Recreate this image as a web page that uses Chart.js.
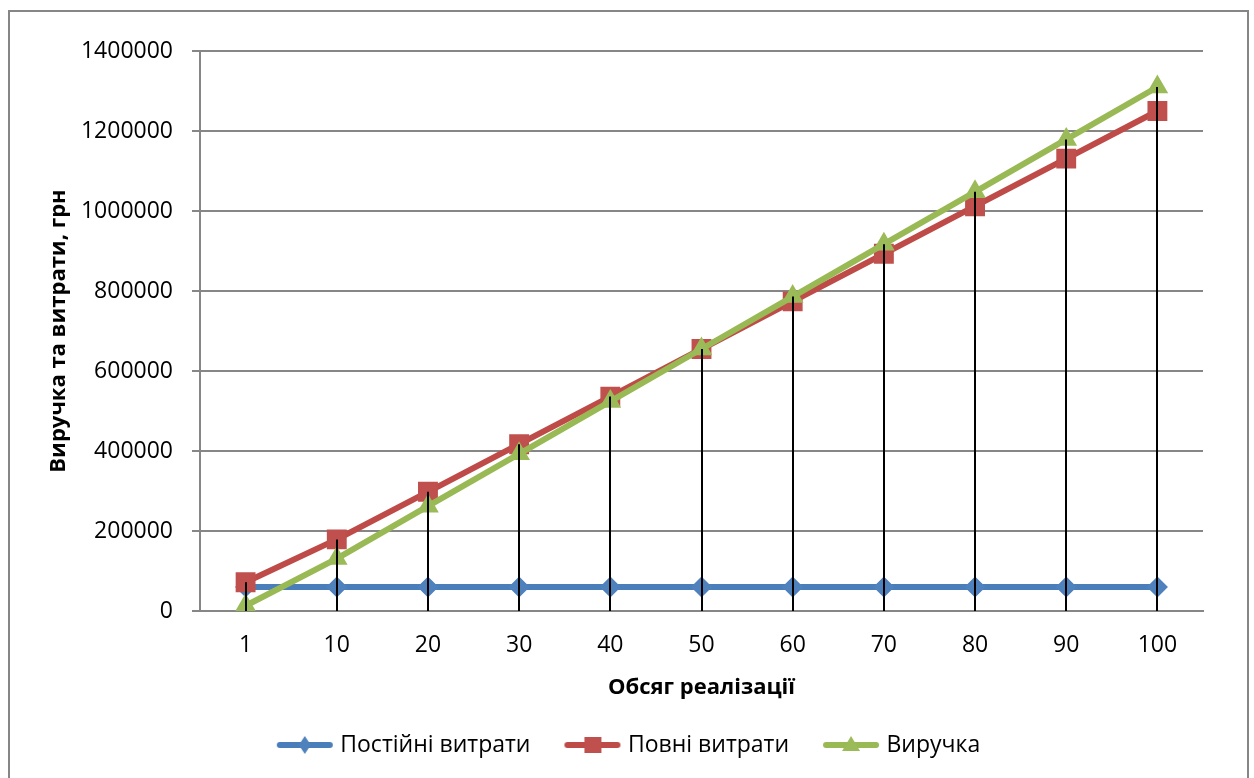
<!DOCTYPE html>
<html>
<head>
<meta charset="utf-8">
<script src="https://cdn.jsdelivr.net/npm/chart.js@4/dist/chart.umd.min.js"></script>
<style>
html,body{margin:0;padding:0;background:#fff;}
canvas{display:block;}
</style>
</head>
<body>
<canvas id="c" width="1254" height="778"></canvas>
<script>
// ---- data ----
const categories = ['1', '10', '20', '30', '40', '50', '60', '70', '80', '90', '100'];
const fixedCosts = [60000, 60000, 60000, 60000, 60000, 60000, 60000, 60000, 60000, 60000, 60000];
const totalCosts = [72000, 179000, 298000, 417000, 536000, 655000, 774000, 893000, 1012000, 1131000, 1250000];
const revenue = [13100, 131000, 262000, 393000, 524000, 655000, 786000, 917000, 1048000, 1179000, 1310000];
const seriesNames = ['Постійні витрати', 'Повні витрати', 'Виручка'];
const yTickValues = [0, 200000, 400000, 600000, 800000, 1000000, 1200000, 1400000];
const yTickLabels = ['0', '200000', '400000', '600000', '800000', '1000000', '1200000', '1400000'];
const xTitle = 'Обсяг реалізації';
const yTitle = 'Виручка та витрати, грн';

const FONT = "'Open Sans', 'DejaVu Sans', sans-serif";
const BLUE = '#4A7EBB', BLUE_M = '#4F81BD';
const RED = '#BE4B48', RED_M = '#C0504D';
const GREEN = '#98B954', GREEN_M = '#9BBB59';
const GRID = '#868686';

function legendIcon(lineColor, markColor, shape) {
  const cv = document.createElement('canvas');
  cv.width = 58; cv.height = 22;
  const g = cv.getContext('2d');
  g.strokeStyle = lineColor; g.lineWidth = 6; g.lineCap = 'round';
  g.beginPath(); g.moveTo(4, 11); g.lineTo(54, 11); g.stroke();
  g.fillStyle = markColor;
  g.beginPath();
  if (shape === 'diamond') {
    g.moveTo(29, 2); g.lineTo(35, 11); g.lineTo(29, 20); g.lineTo(23, 11);
  } else if (shape === 'square') {
    g.rect(21, 3, 17, 16);
  } else {
    g.moveTo(29, 2); g.lineTo(38, 17); g.lineTo(20, 17);
  }
  g.closePath(); g.fill();
  return cv;
}
const icons = [
  legendIcon(BLUE, BLUE_M, 'diamond'),
  legendIcon(RED, RED_M, 'square'),
  legendIcon(GREEN, GREEN_M, 'triangle')
];

const frame = {
  id: 'frame',
  beforeDraw(chart) {
    const ctx = chart.ctx;
    ctx.save();
    ctx.strokeStyle = GRID; ctx.lineWidth = 2;
    ctx.strokeRect(9, 11, 1239, 800);
    ctx.restore();
  }
};

const dropLines = {
  id: 'dropLines',
  afterDatasetsDraw(chart) {
    const ctx = chart.ctx, xs = chart.scales.x, ys = chart.scales.y;
    ctx.save();
    ctx.strokeStyle = '#000'; ctx.lineWidth = 2;
    categories.forEach((c, i) => {
      let top = -Infinity;
      chart.data.datasets.forEach(ds => { top = Math.max(top, ds.data[i]); });
      const x = Math.round(xs.getPixelForValue(i));
      ctx.beginPath();
      ctx.moveTo(x, ys.getPixelForValue(top));
      ctx.lineTo(x, ys.getPixelForValue(0));
      ctx.stroke();
    });
    ctx.restore();
  }
};

new Chart(document.getElementById('c'), {
  type: 'line',
  data: {
    labels: categories,
    datasets: [
      { label: seriesNames[0], data: fixedCosts, borderColor: BLUE, backgroundColor: BLUE_M,
        pointBackgroundColor: BLUE_M, pointBorderColor: BLUE_M, borderWidth: 6,
        pointStyle: 'rectRot', pointRadius: 9.5, pointBorderWidth: 1.5, order: 3 },
      { label: seriesNames[1], data: totalCosts, borderColor: RED, backgroundColor: RED_M,
        pointBackgroundColor: RED_M, pointBorderColor: RED_M, borderWidth: 6,
        pointStyle: 'rect', pointRadius: 13, pointBorderWidth: 1.5, order: 2 },
      { label: seriesNames[2], data: revenue, borderColor: GREEN, backgroundColor: GREEN_M,
        pointBackgroundColor: GREEN_M, pointBorderColor: GREEN_M, borderWidth: 6,
        pointStyle: 'triangle', pointRadius: 11, pointBorderWidth: 1.5, order: 1 }
    ]
  },
  options: {
    responsive: false,
    animation: false,
    devicePixelRatio: 1,
    layout: { padding: { left: 58, right: 51, top: 51, bottom: 11.5 } },
    elements: { line: { tension: 0, borderCapStyle: 'round', borderJoinStyle: 'round' } },
    plugins: {
      tooltip: { enabled: false },
      legend: {
        position: 'bottom',
        labels: {
          usePointStyle: true,
          pointStyleWidth: 48,
          padding: 38,
          color: '#000',
          font: { family: FONT, size: 23 },
          generateLabels(chart) {
            return chart.data.datasets.map((ds, i) => ({
              text: ds.label, pointStyle: icons[i], fillStyle: ds.borderColor,
              strokeStyle: ds.borderColor, lineWidth: 0, hidden: false, datasetIndex: i, fontColor: '#000'
            }));
          }
        }
      }
    },
    scales: {
      x: {
        offset: true,
        grid: { display: false, drawTicks: false },
        border: { display: true, color: GRID, width: 2 },
        ticks: { color: '#000', font: { family: FONT, size: 23 }, padding: 21, maxRotation: 0 },
        title: { display: true, text: xTitle, color: '#000', font: { family: FONT, size: 22, weight: 'bold' }, padding: { top: 0, bottom: -5.5 } },
        afterFit(s) { s.height = 84.5; }
      },
      y: {
        min: 0, max: 1400000,
        afterBuildTicks(s) { s.ticks = yTickValues.map(v => ({ value: v })); },
        grid: { color: GRID, lineWidth: 2, drawTicks: true, tickLength: 8, tickColor: GRID },
        border: { display: true, color: GRID, width: 2 },
        ticks: { color: '#000', font: { family: FONT, size: 23 }, padding: 19,
          callback(v) { const i = yTickValues.indexOf(v); return i >= 0 ? yTickLabels[i] : ''; } },
        title: { display: true, text: yTitle, color: '#000', font: { family: FONT, size: 22, weight: 'bold' }, padding: { top: -12, bottom: 0 } },
        afterFit(s) { s.width = 142; }
      }
    }
  },
  plugins: [frame, dropLines]
});
</script>
</body>
</html>
